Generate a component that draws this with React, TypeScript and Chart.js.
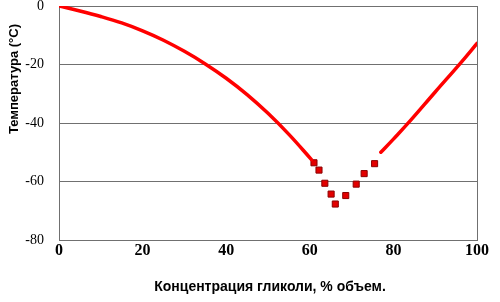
import React, { useEffect, useRef } from "react";
import { Chart, registerables } from "chart.js";

Chart.register(...registerables);

// Left freezing curve (concentration %, temperature °C)
const leftCurveX = [0, 5, 10, 15, 20, 25, 30, 35, 40, 45, 50, 55, 60.4];
const leftCurveY = [0, -1.7, -3.6, -5.8, -8.5, -11.7, -15.5, -19.8, -24.7, -30.3, -36.7, -43.9, -52.5];

// Measured points near the eutectic
const markerX = [61.0, 62.2, 63.6, 65.1, 66.1, 68.6, 71.1, 73.0, 75.5];
const markerY = [-53.6, -56.1, -60.6, -64.3, -67.7, -64.8, -60.9, -57.3, -53.9];

// Right curve
const rightCurveX = [77, 80, 84, 90, 96, 100];
const rightCurveY = [-50, -45.5, -39.3, -29.4, -19.6, -12.8];

const xTicks = [0, 20, 40, 60, 80, 100];
const yTicks = [0, -20, -40, -60, -80];

const xTitle = "Концентрация гликоли, % объем.";
const yTitle = "Температура (°С)";

const toPts = (xs: number[], ys: number[]) => xs.map((x, i) => ({ x, y: ys[i] }));

const GRID = "#707070";

export default function App() {
  const ref = useRef<HTMLCanvasElement | null>(null);

  useEffect(() => {
    document.body.style.margin = "0";
    const canvas = ref.current;
    if (!canvas) return;

    const titlePlugin = {
      id: "customTitles",
      afterDraw(chart: any) {
        const ctx = chart.ctx;
        const area = chart.chartArea;
        ctx.save();
        ctx.fillStyle = "#000";
        ctx.font = "bold 14px 'Liberation Sans', Arial, sans-serif";
        ctx.textAlign = "center";
        ctx.textBaseline = "middle";
        ctx.fillText(xTitle, (area.left + area.right) / 2 + 2, 287);
        ctx.translate(14, 79);
        ctx.rotate(-Math.PI / 2);
        ctx.font = "bold 13px 'Liberation Sans', Arial, sans-serif";
        ctx.fillText(yTitle, 0, 0);
        ctx.restore();
      },
    };

    const chart = new Chart(canvas, {
      type: "scatter",
      data: {
        datasets: [
          {
            data: toPts(leftCurveX, leftCurveY),
            showLine: true,
            borderColor: "#ff0000",
            borderWidth: 3.5,
            pointRadius: 0,
            tension: 0.4,
            borderCapStyle: "round",
          },
          {
            data: toPts(markerX, markerY),
            showLine: false,
            pointStyle: "rect",
            pointRadius: 4.3,
            backgroundColor: "#e30000",
            borderColor: "#8a0000",
            borderWidth: 1,
          },
          {
            data: toPts(rightCurveX, rightCurveY),
            showLine: true,
            borderColor: "#ff0000",
            borderWidth: 3.5,
            pointRadius: 0,
            tension: 0.4,
            borderCapStyle: "round",
          },
        ],
      } as any,
      options: {
        animation: false,
        responsive: false,
        maintainAspectRatio: false,
        layout: { padding: { top: 6, right: 23, left: 0, bottom: 0 } },
        plugins: {
          legend: { display: false },
          tooltip: { enabled: false },
        },
        scales: {
          x: {
            type: "linear",
            min: 0,
            max: 100,
            afterBuildTicks: (scale: any) => {
              scale.ticks = xTicks.map((v) => ({ value: v }));
            },
            afterFit: (scale: any) => {
              scale.height = 62;
              scale.paddingLeft = 0;
              scale.paddingRight = 0;
            },
            ticks: {
              color: "#000",
              padding: 1,
              font: { family: "'Liberation Serif', 'Times New Roman', serif", size: 16, weight: "bold" },
            },
            grid: {
              drawTicks: false,
              color: (c: any) => (c.tick && c.tick.value === 100 ? GRID : "rgba(0,0,0,0)"),
            },
            border: { display: true, color: GRID },
          },
          y: {
            type: "linear",
            min: -80,
            max: 0,
            afterBuildTicks: (scale: any) => {
              scale.ticks = yTicks.map((v) => ({ value: v }));
            },
            afterFit: (scale: any) => {
              scale.width = 59;
              scale.paddingTop = 0;
              scale.paddingBottom = 0;
            },
            ticks: {
              color: "#000",
              padding: 15,
              font: { family: "'Liberation Serif', 'Times New Roman', serif", size: 14 },
            },
            grid: { drawTicks: false, color: GRID },
            border: { display: true, color: GRID },
          },
        },
      } as any,
      plugins: [titlePlugin],
    });

    return () => chart.destroy();
  }, []);

  return (
    <div style={{ position: "absolute", left: 0, top: 0, width: 500, height: 302 }}>
      <canvas ref={ref} width={500} height={302} style={{ width: 500, height: 302 }} />
    </div>
  );
}
